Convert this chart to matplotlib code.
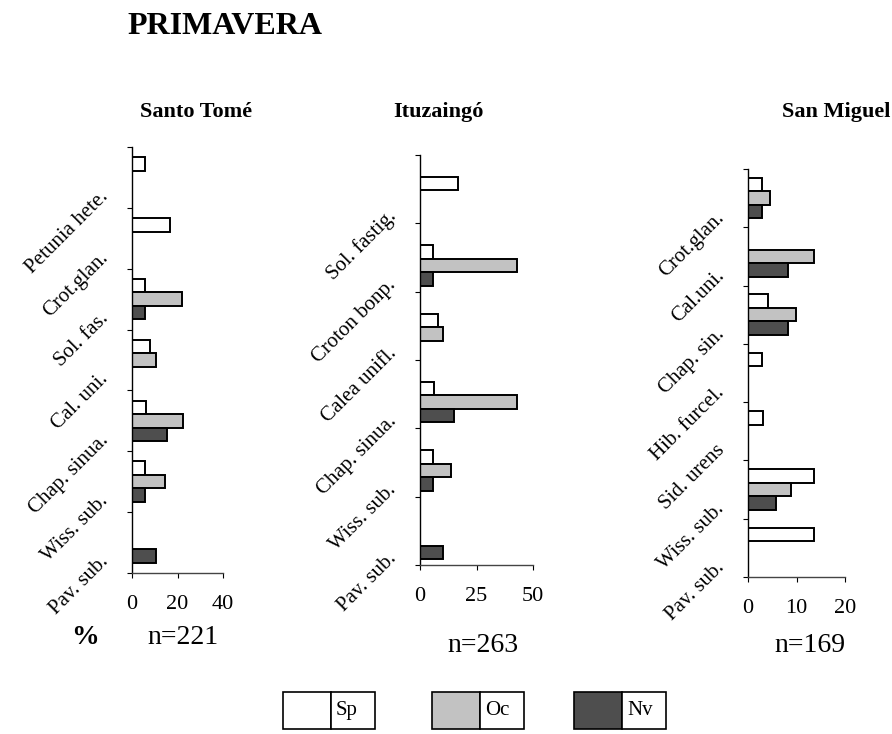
import matplotlib
matplotlib.use("Agg")
import matplotlib.pyplot as plt
from matplotlib.patches import Rectangle

plt.rcParams["font.family"] = ["Liberation Serif", "DejaVu Serif"]

# ---- data: percentages per species (top to bottom) ----
st_species = ["Petunia hete.", "Crot.glan.", "Sol. fas.", "Cal. uni.",
              "Chap. sinua.", "Wiss. sub.", "Pav. sub."]
st_sp = [5.6, 16.8, 5.6, 7.8, 6.3, 5.6, 0]
st_oc = [0, 0, 22.0, 10.7, 22.4, 14.3, 0]
st_nv = [0, 0, 5.6, 0, 15.4, 5.6, 10.7]
st_ticks = [0, 20, 40]
st_n = "n=221"

it_species = ["Sol. fastig.", "Croton bonp.", "Calea unifl.",
              "Chap. sinua.", "Wiss. sub.", "Pav. sub."]
it_sp = [17.0, 5.6, 7.8, 6.0, 5.6, 0]
it_oc = [0, 42.8, 10.3, 42.8, 13.6, 0]
it_nv = [0, 5.6, 0, 15.2, 5.6, 10.3]
it_ticks = [0, 25, 50]
it_n = "n=263"

sm_species = ["Crot.glan.", "Cal.uni.", "Chap. sin.", "Hib. furcel.",
              "Sid. urens", "Wiss. sub.", "Pav. sub."]
sm_sp = [2.9, 0, 4.1, 2.9, 3.1, 13.7, 13.7]
sm_oc = [4.6, 13.7, 9.9, 0, 0, 8.9, 0]
sm_nv = [2.9, 8.3, 8.3, 0, 0, 5.8, 0]
sm_ticks = [0, 10, 20]
sm_n = "n=169"

series_names = ["Sp", "Oc", "Nv"]
series_colors = ["#ffffff", "#c2c2c2", "#4e4e4e"]

W, H = 892, 734
fig = plt.figure(figsize=(W / 100, H / 100), dpi=100)
fig.patch.set_facecolor("white")


def px_box(x0, y0, x1, y1):
    """Figure-fraction rectangle from pixel corners (origin top-left)."""
    return [x0 / W, 1 - y1 / H, (x1 - x0) / W, (y1 - y0) / H]


def fx(x):
    return x / W


def fy(y):
    return 1 - y / H


def panel(box, species, sp, oc, nv, ticks, title, title_x, n_text, n_xy,
          drop_px=0.0):
    ax = fig.add_axes(px_box(*box))
    k = len(species)
    slot_px = (box[3] - box[1]) / k
    h = 13.5 / slot_px
    drop = drop_px / slot_px
    centers = [k - 1 - i - drop for i in range(k)]
    for vals, off, col in zip((sp, oc, nv), (h, 0, -h), series_colors):
        ax.barh([c + off for c in centers], vals, height=h, color=col,
                edgecolor="black", linewidth=1.4)
    ax.set_ylim(-0.5, k - 0.5)
    ax.set_xlim(ticks[0], ticks[-1])
    ax.set_yticks([i - 0.5 for i in range(k + 1)])
    ax.set_yticklabels([])
    ax.set_xticks(ticks)
    ax.set_xticklabels([str(t) for t in ticks], fontsize=16)
    ax.tick_params(axis="y", direction="out", length=3.5, width=0.8)
    ax.tick_params(axis="x", direction="out", length=3.5, width=0.8, pad=12.5)
    for s in ("top", "right"):
        ax.spines[s].set_visible(False)
    ax.spines["left"].set_linewidth(1.0)
    ax.spines["bottom"].set_linewidth(1.0)
    ax.spines["bottom"].set_color("#444444")
    ax.patch.set_alpha(0)
    for name, c in zip(species, centers):
        ax.annotate(name, xy=(0, c), xycoords=("axes fraction", "data"),
                    xytext=(-19, -12), textcoords="offset points",
                    rotation=45, ha="right", va="center",
                    rotation_mode="anchor", fontsize=15)
    fig.text(fx(title_x), fy(112), title, fontsize=16, fontweight="bold",
             ha="left", va="center")
    fig.text(fx(n_xy[0]), fy(n_xy[1]), n_text, fontsize=20,
             ha="center", va="center")
    return ax


panel((132, 147, 223, 573), st_species, st_sp, st_oc, st_nv, st_ticks,
      "Santo Tomé", 140, st_n, (183, 638))
panel((420, 155, 533, 565), it_species, it_sp, it_oc, it_nv, it_ticks,
      "Ituzaingó", 393, it_n, (483, 645), drop_px=8)
panel((748, 169, 845, 577), sm_species, sm_sp, sm_oc, sm_nv, sm_ticks,
      "San Miguel", 782, sm_n, (810, 645))

fig.text(fx(127), fy(26), "PRIMAVERA", fontsize=23, fontweight="bold",
         ha="left", va="center")
fig.text(fx(85), fy(638), "%", fontsize=20, fontweight="bold",
         ha="center", va="center")

# legend: swatch cell + label cell, each boxed
leg_left = [283, 432, 574]
box_w, sw_w = 92, 48
y_top, y_bot = 692, 729
for x0, name, col in zip(leg_left, series_names, series_colors):
    fig.patches.append(Rectangle((fx(x0), fy(y_bot)), sw_w / W,
                                 (y_bot - y_top) / H, transform=fig.transFigure,
                                 facecolor=col, edgecolor="black", lw=1.2))
    fig.patches.append(Rectangle((fx(x0 + sw_w), fy(y_bot)), (box_w - sw_w) / W,
                                 (y_bot - y_top) / H, transform=fig.transFigure,
                                 facecolor="white", edgecolor="black", lw=1.2))
    fig.text(fx(x0 + sw_w + 5), fy((y_top + y_bot) / 2), name, fontsize=15,
             ha="left", va="center")

fig.savefig("out.png", dpi=100, facecolor="white")
